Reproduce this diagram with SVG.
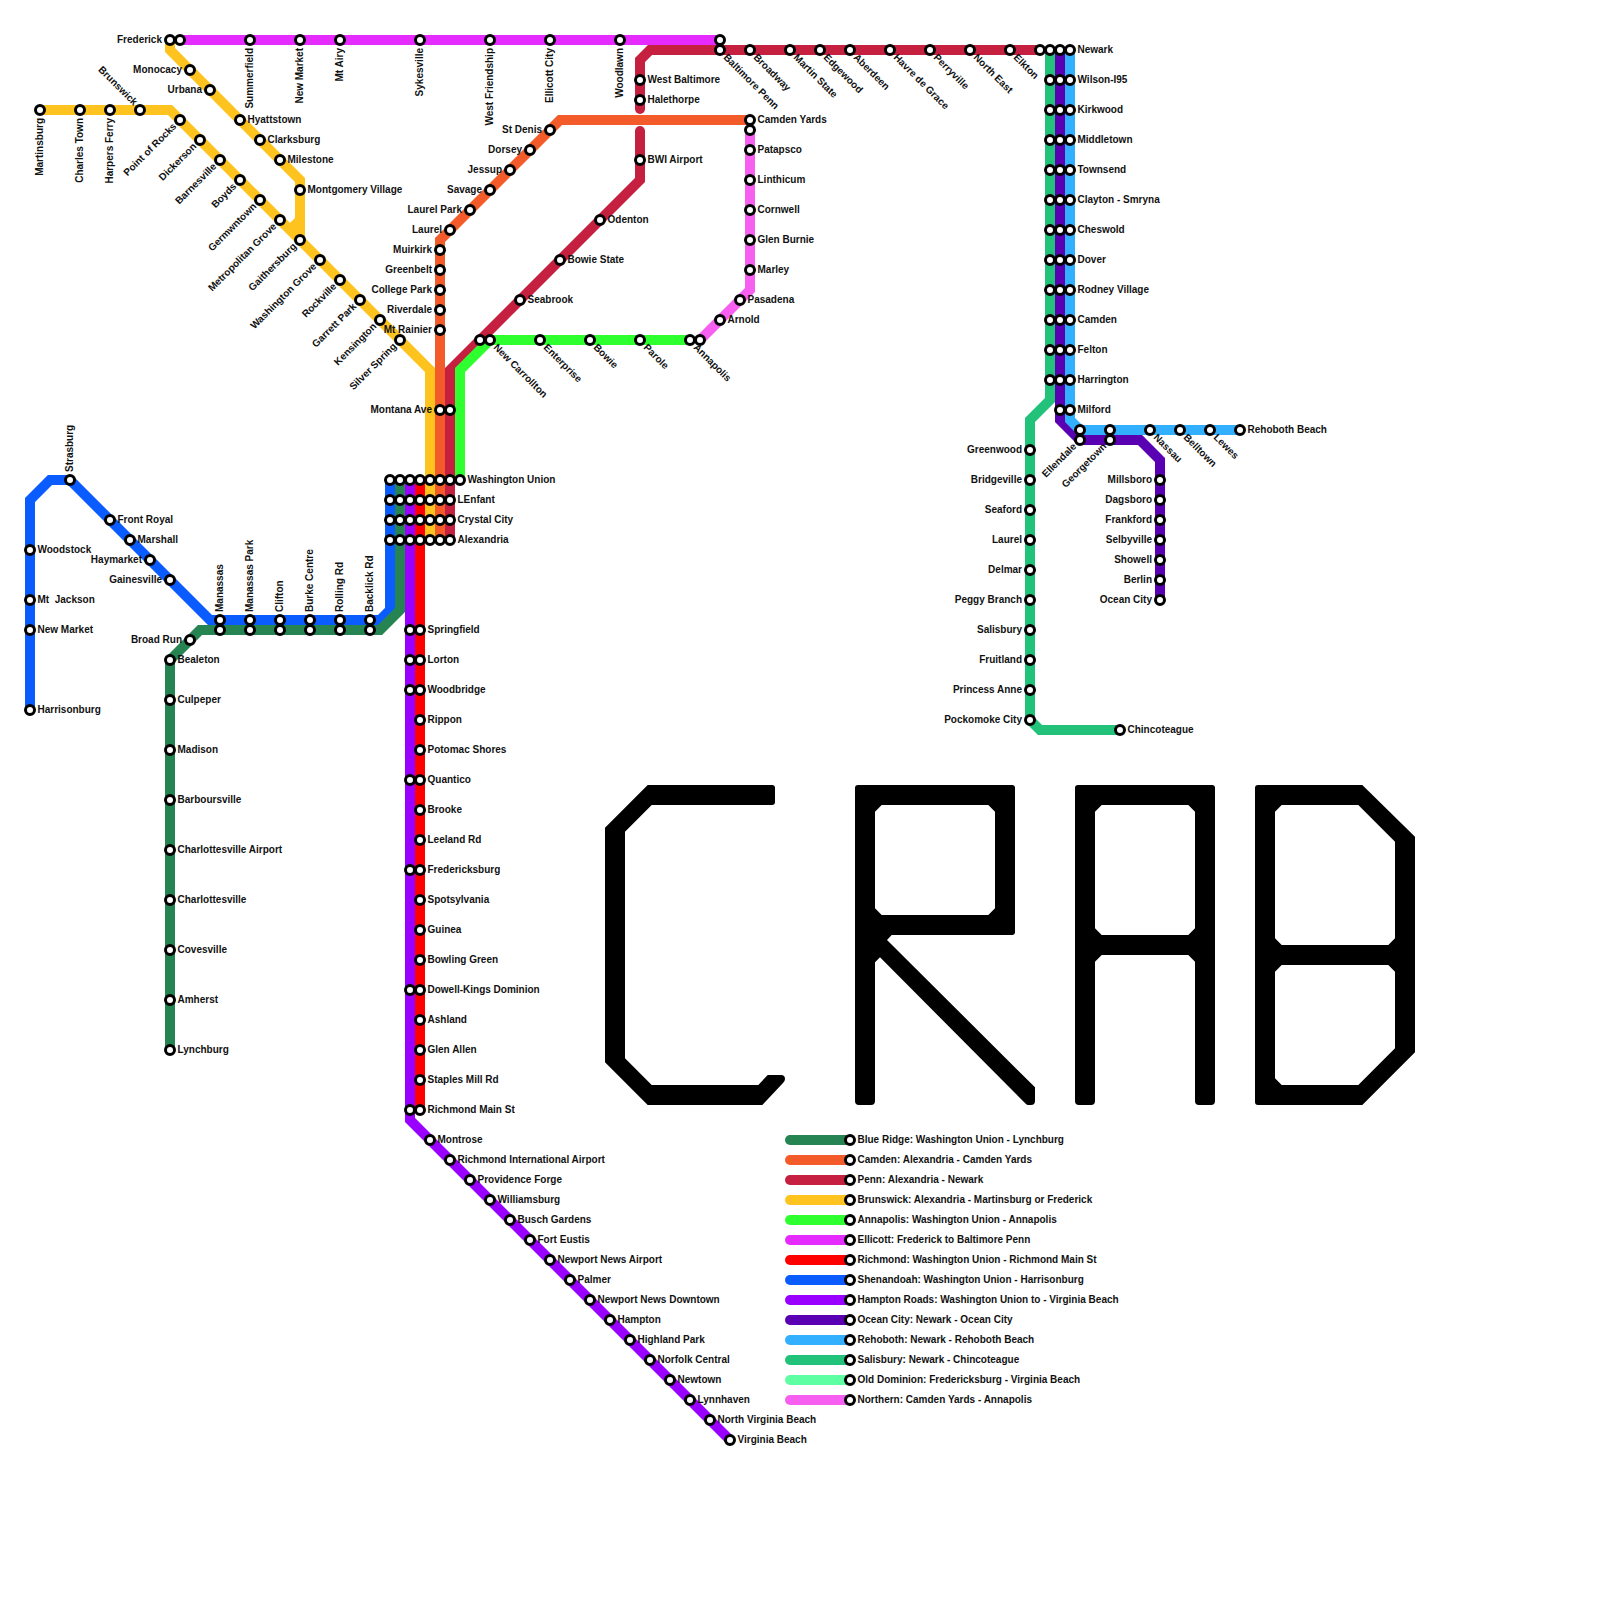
<svg xmlns="http://www.w3.org/2000/svg" width="1600" height="1600" viewBox="0 0 1600 1600">
<style>
.ln{fill:none;stroke-width:10;stroke-linejoin:miter;stroke-linecap:butt}
.lg{fill:none;stroke-width:10;stroke-linecap:round}
circle{fill:#fff;stroke:#000;stroke-width:3}
text{font-family:"Liberation Sans",Arial,sans-serif;font-size:10px;font-weight:700;fill:#111}
.e{text-anchor:end}
.br{stroke:#268452}.ca{stroke:#f45b2a}.pe{stroke:#c5203f}.bw{stroke:#ffc31f}.an{stroke:#2eff2e}.el{stroke:#e52bff}.ri{stroke:#ff0000}.sh{stroke:#0a5cff}.ha{stroke:#9900ff}.oc{stroke:#5a00b3}.re{stroke:#33afff}.sa{stroke:#22c27a}.od{stroke:#5effa2}.no{stroke:#f65ff0}
.crab{fill:#000;fill-rule:evenodd}
</style>
<rect width="1600" height="1600" fill="#fff"/>
<g id="connectors">
<path class="ln sa" d="M1050 50V400L1030 420V720L1040 730H1120"/>
<path class="ln oc" d="M1060 50V420L1080 440H1140L1160 460V600"/>
<path class="ln re" d="M1070 50V420L1080 430H1240"/>
<path class="ln sh" d="M390 480V610L380 620H210L70 480H50L30 500V710"/>
<path class="ln br" d="M400 480V610L380 630H200L170 660V1050"/>
<path class="ln ha" d="M410 480V1120L730 1440"/>
<path class="ln ri" d="M420 480V1110"/>
<path class="ln bw" d="M430 540V370L170 110H40"/>
<path class="ln bw" d="M170 40V50L300 180V220L290 230"/>
<path class="ln bw" d="M300 180V240"/>
<path class="ln pe" d="M450 540V370L640 180V131" stroke-linecap="butt"/>
<path class="lg pe" d="M640 150V131"/>
<path class="lg pe" d="M640 70V109"/>
<path class="ln pe" d="M640 80V60L650 50H1040"/>
<path class="ln ca" d="M440 540V240L560 120H750"/>
<path class="ln an" d="M460 480V370L490 340H690"/>
<path class="ln el" d="M180 40H720"/>
<path class="ln no" d="M750 130V290L700 340"/>
</g>
<g id="stations-brunswick">
<g id="martinsburg"><circle cx="40" cy="110" r="4.5"/><text class="e" x="43" y="118" transform="rotate(-90 43 118)">Martinsburg</text></g>
<g id="charles-town"><circle cx="80" cy="110" r="4.5"/><text class="e" x="83" y="118" transform="rotate(-90 83 118)">Charles Town</text></g>
<g id="harpers-ferry"><circle cx="110" cy="110" r="4.5"/><text class="e" x="113" y="118" transform="rotate(-90 113 118)">Harpers Ferry</text></g>
<g id="brunswick"><circle cx="140" cy="110" r="4.5"/><text class="e" x="133.5" y="106" transform="rotate(45 133.5 106)">Brunswick</text></g>
<g id="point-of-rocks"><circle cx="180" cy="120" r="4.5"/><text class="e" x="177" y="127" transform="rotate(-45 177 127)">Point of Rocks</text></g>
<g id="dickerson"><circle cx="200" cy="140" r="4.5"/><text class="e" x="197" y="147" transform="rotate(-45 197 147)">Dickerson</text></g>
<g id="barnesville"><circle cx="220" cy="160" r="4.5"/><text class="e" x="217" y="167" transform="rotate(-45 217 167)">Barnesville</text></g>
<g id="boyds"><circle cx="240" cy="180" r="4.5"/><text class="e" x="237" y="187" transform="rotate(-45 237 187)">Boyds</text></g>
<g id="germwntown"><circle cx="260" cy="200" r="4.5"/><text class="e" x="257" y="207" transform="rotate(-45 257 207)">Germwntown</text></g>
<g id="metropolitan-grove"><circle cx="280" cy="220" r="4.5"/><text class="e" x="277" y="227" transform="rotate(-45 277 227)">Metropolitan Grove</text></g>
<g id="gaithersburg"><circle cx="300" cy="240" r="4.5"/><text class="e" x="297" y="247" transform="rotate(-45 297 247)">Gaithersburg</text></g>
<g id="washington-grove"><circle cx="320" cy="260" r="4.5"/><text class="e" x="317" y="267" transform="rotate(-45 317 267)">Washington Grove</text></g>
<g id="rockville"><circle cx="340" cy="280" r="4.5"/><text class="e" x="337" y="287" transform="rotate(-45 337 287)">Rockville</text></g>
<g id="garrett-park"><circle cx="360" cy="300" r="4.5"/><text class="e" x="357" y="307" transform="rotate(-45 357 307)">Garrett Park</text></g>
<g id="kensington"><circle cx="380" cy="320" r="4.5"/><text class="e" x="377" y="327" transform="rotate(-45 377 327)">Kensington</text></g>
<g id="silver-spring"><circle cx="400" cy="340" r="4.5"/><text class="e" x="397" y="347" transform="rotate(-45 397 347)">Silver Spring</text></g>
<g id="frederick"><circle cx="170" cy="40" r="4.5"/><circle cx="180" cy="40" r="4.5"/><text class="e" x="162" y="42.5">Frederick</text></g>
<g id="monocacy"><circle cx="190" cy="70" r="4.5"/><text class="e" x="182" y="72.5">Monocacy</text></g>
<g id="urbana"><circle cx="210" cy="90" r="4.5"/><text class="e" x="202" y="92.5">Urbana</text></g>
<g id="hyattstown"><circle cx="240" cy="120" r="4.5"/><text x="247.5" y="122.5">Hyattstown</text></g>
<g id="clarksburg"><circle cx="260" cy="140" r="4.5"/><text x="267.5" y="142.5">Clarksburg</text></g>
<g id="milestone"><circle cx="280" cy="160" r="4.5"/><text x="287.5" y="162.5">Milestone</text></g>
<g id="montgomery-village"><circle cx="300" cy="190" r="4.5"/><text x="307.5" y="192.5">Montgomery Village</text></g>
</g>
<g id="stations-ellicott">
<g id="summerfield"><circle cx="250" cy="40" r="4.5"/><text class="e" x="253" y="48" transform="rotate(-90 253 48)">Summerfield</text></g>
<g id="new-market-e"><circle cx="300" cy="40" r="4.5"/><text class="e" x="303" y="48" transform="rotate(-90 303 48)">New Market</text></g>
<g id="mt-airy"><circle cx="340" cy="40" r="4.5"/><text class="e" x="343" y="48" transform="rotate(-90 343 48)">Mt Airy</text></g>
<g id="sykesville"><circle cx="420" cy="40" r="4.5"/><text class="e" x="423" y="48" transform="rotate(-90 423 48)">Sykesville</text></g>
<g id="west-friendship"><circle cx="490" cy="40" r="4.5"/><text class="e" x="493" y="48" transform="rotate(-90 493 48)">West Friendship</text></g>
<g id="ellicott-city"><circle cx="550" cy="40" r="4.5"/><text class="e" x="553" y="48" transform="rotate(-90 553 48)">Ellicott City</text></g>
<g id="woodlawn"><circle cx="620" cy="40" r="4.5"/><text class="e" x="623" y="48" transform="rotate(-90 623 48)">Woodlawn</text></g>
</g>
<g id="stations-penn">
<g id="baltimore-penn"><circle cx="720" cy="40" r="4.5"/><circle cx="720" cy="50" r="4.5"/><text x="723" y="58" transform="rotate(45 723 58)">Baltimore Penn</text></g>
<g id="broadway"><circle cx="750" cy="50" r="4.5"/><text x="753" y="58" transform="rotate(45 753 58)">Broadway</text></g>
<g id="martin-state"><circle cx="790" cy="50" r="4.5"/><text x="793" y="58" transform="rotate(45 793 58)">Martin State</text></g>
<g id="edgewood"><circle cx="820" cy="50" r="4.5"/><text x="823" y="58" transform="rotate(45 823 58)">Edgewood</text></g>
<g id="aberdeen"><circle cx="850" cy="50" r="4.5"/><text x="853" y="58" transform="rotate(45 853 58)">Aberdeen</text></g>
<g id="havre-de-grace"><circle cx="890" cy="50" r="4.5"/><text x="893" y="58" transform="rotate(45 893 58)">Havre de Grace</text></g>
<g id="perryville"><circle cx="930" cy="50" r="4.5"/><text x="933" y="58" transform="rotate(45 933 58)">Perryville</text></g>
<g id="north-east"><circle cx="970" cy="50" r="4.5"/><text x="973" y="58" transform="rotate(45 973 58)">North East</text></g>
<g id="elkton"><circle cx="1010" cy="50" r="4.5"/><text x="1013" y="58" transform="rotate(45 1013 58)">Elkton</text></g>
<g id="west-baltimore"><circle cx="640" cy="80" r="4.5"/><text x="647.5" y="82.5">West Baltimore</text></g>
<g id="halethorpe"><circle cx="640" cy="100" r="4.5"/><text x="647.5" y="102.5">Halethorpe</text></g>
<g id="bwi-airport"><circle cx="640" cy="160" r="4.5"/><text x="647.5" y="162.5">BWI Airport</text></g>
<g id="odenton"><circle cx="600" cy="220" r="4.5"/><text x="607.5" y="222.5">Odenton</text></g>
<g id="bowie-state"><circle cx="560" cy="260" r="4.5"/><text x="567.5" y="262.5">Bowie State</text></g>
<g id="seabrook"><circle cx="520" cy="300" r="4.5"/><text x="527.5" y="302.5">Seabrook</text></g>
</g>
<g id="stations-camden">
<g id="st-denis"><circle cx="550" cy="130" r="4.5"/><text class="e" x="542" y="132.5">St Denis</text></g>
<g id="dorsey"><circle cx="530" cy="150" r="4.5"/><text class="e" x="522" y="152.5">Dorsey</text></g>
<g id="jessup"><circle cx="510" cy="170" r="4.5"/><text class="e" x="502" y="172.5">Jessup</text></g>
<g id="savage"><circle cx="490" cy="190" r="4.5"/><text class="e" x="482" y="192.5">Savage</text></g>
<g id="laurel-park"><circle cx="470" cy="210" r="4.5"/><text class="e" x="462" y="212.5">Laurel Park</text></g>
<g id="laurel-c"><circle cx="450" cy="230" r="4.5"/><text class="e" x="442" y="232.5">Laurel</text></g>
<g id="muirkirk"><circle cx="440" cy="250" r="4.5"/><text class="e" x="432" y="252.5">Muirkirk</text></g>
<g id="greenbelt"><circle cx="440" cy="270" r="4.5"/><text class="e" x="432" y="272.5">Greenbelt</text></g>
<g id="college-park"><circle cx="440" cy="290" r="4.5"/><text class="e" x="432" y="292.5">College Park</text></g>
<g id="riverdale"><circle cx="440" cy="310" r="4.5"/><text class="e" x="432" y="312.5">Riverdale</text></g>
<g id="mt-rainier"><circle cx="440" cy="330" r="4.5"/><text class="e" x="432" y="332.5">Mt Rainier</text></g>
<g id="montana-ave"><circle cx="440" cy="410" r="4.5"/><circle cx="450" cy="410" r="4.5"/><text class="e" x="432" y="412.5">Montana Ave</text></g>
<g id="camden-yards"><circle cx="750" cy="120" r="4.5"/><circle cx="750" cy="130" r="4.5"/><text x="757.5" y="122.5">Camden Yards</text></g>
</g>
<g id="stations-core">
<g id="washington-union"><circle cx="390" cy="480" r="4.5"/><circle cx="400" cy="480" r="4.5"/><circle cx="410" cy="480" r="4.5"/><circle cx="420" cy="480" r="4.5"/><circle cx="430" cy="480" r="4.5"/><circle cx="440" cy="480" r="4.5"/><circle cx="450" cy="480" r="4.5"/><circle cx="460" cy="480" r="4.5"/><text x="467.5" y="482.5">Washington Union</text></g>
<g id="lenfant"><circle cx="390" cy="500" r="4.5"/><circle cx="400" cy="500" r="4.5"/><circle cx="410" cy="500" r="4.5"/><circle cx="420" cy="500" r="4.5"/><circle cx="430" cy="500" r="4.5"/><circle cx="440" cy="500" r="4.5"/><circle cx="450" cy="500" r="4.5"/><text x="457.5" y="502.5">LEnfant</text></g>
<g id="crystal-city"><circle cx="390" cy="520" r="4.5"/><circle cx="400" cy="520" r="4.5"/><circle cx="410" cy="520" r="4.5"/><circle cx="420" cy="520" r="4.5"/><circle cx="430" cy="520" r="4.5"/><circle cx="440" cy="520" r="4.5"/><circle cx="450" cy="520" r="4.5"/><text x="457.5" y="522.5">Crystal City</text></g>
<g id="alexandria"><circle cx="390" cy="540" r="4.5"/><circle cx="400" cy="540" r="4.5"/><circle cx="410" cy="540" r="4.5"/><circle cx="420" cy="540" r="4.5"/><circle cx="430" cy="540" r="4.5"/><circle cx="440" cy="540" r="4.5"/><circle cx="450" cy="540" r="4.5"/><text x="457.5" y="542.5">Alexandria</text></g>
</g>
<g id="stations-annapolis">
<g id="new-carrollton"><circle cx="480" cy="340" r="4.5"/><circle cx="490" cy="340" r="4.5"/><text x="493" y="348" transform="rotate(45 493 348)">New Carrollton</text></g>
<g id="enterprise"><circle cx="540" cy="340" r="4.5"/><text x="543" y="348" transform="rotate(45 543 348)">Enterprise</text></g>
<g id="bowie"><circle cx="590" cy="340" r="4.5"/><text x="593" y="348" transform="rotate(45 593 348)">Bowie</text></g>
<g id="parole"><circle cx="640" cy="340" r="4.5"/><text x="643" y="348" transform="rotate(45 643 348)">Parole</text></g>
<g id="annapolis"><circle cx="690" cy="340" r="4.5"/><circle cx="700" cy="340" r="4.5"/><text x="693" y="348" transform="rotate(45 693 348)">Annapolis</text></g>
</g>
<g id="stations-northern">
<g id="patapsco"><circle cx="750" cy="150" r="4.5"/><text x="757.5" y="152.5">Patapsco</text></g>
<g id="linthicum"><circle cx="750" cy="180" r="4.5"/><text x="757.5" y="182.5">Linthicum</text></g>
<g id="cornwell"><circle cx="750" cy="210" r="4.5"/><text x="757.5" y="212.5">Cornwell</text></g>
<g id="glen-burnie"><circle cx="750" cy="240" r="4.5"/><text x="757.5" y="242.5">Glen Burnie</text></g>
<g id="marley"><circle cx="750" cy="270" r="4.5"/><text x="757.5" y="272.5">Marley</text></g>
<g id="pasadena"><circle cx="740" cy="300" r="4.5"/><text x="747.5" y="302.5">Pasadena</text></g>
<g id="arnold"><circle cx="720" cy="320" r="4.5"/><text x="727.5" y="322.5">Arnold</text></g>
</g>
<g id="stations-delaware">
<g id="newark"><circle cx="1040" cy="50" r="4.5"/><circle cx="1050" cy="50" r="4.5"/><circle cx="1060" cy="50" r="4.5"/><circle cx="1070" cy="50" r="4.5"/><text x="1077.5" y="52.5">Newark</text></g>
<g id="wilson-i95"><circle cx="1050" cy="80" r="4.5"/><circle cx="1060" cy="80" r="4.5"/><circle cx="1070" cy="80" r="4.5"/><text x="1077.5" y="82.5">Wilson-I95</text></g>
<g id="kirkwood"><circle cx="1050" cy="110" r="4.5"/><circle cx="1060" cy="110" r="4.5"/><circle cx="1070" cy="110" r="4.5"/><text x="1077.5" y="112.5">Kirkwood</text></g>
<g id="middletown"><circle cx="1050" cy="140" r="4.5"/><circle cx="1060" cy="140" r="4.5"/><circle cx="1070" cy="140" r="4.5"/><text x="1077.5" y="142.5">Middletown</text></g>
<g id="townsend"><circle cx="1050" cy="170" r="4.5"/><circle cx="1060" cy="170" r="4.5"/><circle cx="1070" cy="170" r="4.5"/><text x="1077.5" y="172.5">Townsend</text></g>
<g id="clayton-smryna"><circle cx="1050" cy="200" r="4.5"/><circle cx="1060" cy="200" r="4.5"/><circle cx="1070" cy="200" r="4.5"/><text x="1077.5" y="202.5">Clayton - Smryna</text></g>
<g id="cheswold"><circle cx="1050" cy="230" r="4.5"/><circle cx="1060" cy="230" r="4.5"/><circle cx="1070" cy="230" r="4.5"/><text x="1077.5" y="232.5">Cheswold</text></g>
<g id="dover"><circle cx="1050" cy="260" r="4.5"/><circle cx="1060" cy="260" r="4.5"/><circle cx="1070" cy="260" r="4.5"/><text x="1077.5" y="262.5">Dover</text></g>
<g id="rodney-village"><circle cx="1050" cy="290" r="4.5"/><circle cx="1060" cy="290" r="4.5"/><circle cx="1070" cy="290" r="4.5"/><text x="1077.5" y="292.5">Rodney Village</text></g>
<g id="camden"><circle cx="1050" cy="320" r="4.5"/><circle cx="1060" cy="320" r="4.5"/><circle cx="1070" cy="320" r="4.5"/><text x="1077.5" y="322.5">Camden</text></g>
<g id="felton"><circle cx="1050" cy="350" r="4.5"/><circle cx="1060" cy="350" r="4.5"/><circle cx="1070" cy="350" r="4.5"/><text x="1077.5" y="352.5">Felton</text></g>
<g id="harrington"><circle cx="1050" cy="380" r="4.5"/><circle cx="1060" cy="380" r="4.5"/><circle cx="1070" cy="380" r="4.5"/><text x="1077.5" y="382.5">Harrington</text></g>
<g id="milford"><circle cx="1060" cy="410" r="4.5"/><circle cx="1070" cy="410" r="4.5"/><text x="1077.5" y="412.5">Milford</text></g>
<g id="ellendale"><circle cx="1080" cy="430" r="4.5"/><circle cx="1080" cy="440" r="4.5"/><text class="e" x="1077" y="447" transform="rotate(-45 1077 447)">Ellendale</text></g>
<g id="georgetown"><circle cx="1110" cy="430" r="4.5"/><circle cx="1110" cy="440" r="4.5"/><text class="e" x="1107" y="447" transform="rotate(-45 1107 447)">Georgetown</text></g>
<g id="nassau"><circle cx="1150" cy="430" r="4.5"/><text x="1153" y="438" transform="rotate(45 1153 438)">Nassau</text></g>
<g id="belltown"><circle cx="1180" cy="430" r="4.5"/><text x="1183" y="438" transform="rotate(45 1183 438)">Belltown</text></g>
<g id="lewes"><circle cx="1210" cy="430" r="4.5"/><text x="1213" y="438" transform="rotate(45 1213 438)">Lewes</text></g>
<g id="rehoboth-beach"><circle cx="1240" cy="430" r="4.5"/><text x="1247.5" y="432.5">Rehoboth Beach</text></g>
<g id="millsboro"><circle cx="1160" cy="480" r="4.5"/><text class="e" x="1152" y="482.5">Millsboro</text></g>
<g id="dagsboro"><circle cx="1160" cy="500" r="4.5"/><text class="e" x="1152" y="502.5">Dagsboro</text></g>
<g id="frankford"><circle cx="1160" cy="520" r="4.5"/><text class="e" x="1152" y="522.5">Frankford</text></g>
<g id="selbyville"><circle cx="1160" cy="540" r="4.5"/><text class="e" x="1152" y="542.5">Selbyville</text></g>
<g id="showell"><circle cx="1160" cy="560" r="4.5"/><text class="e" x="1152" y="562.5">Showell</text></g>
<g id="berlin"><circle cx="1160" cy="580" r="4.5"/><text class="e" x="1152" y="582.5">Berlin</text></g>
<g id="ocean-city"><circle cx="1160" cy="600" r="4.5"/><text class="e" x="1152" y="602.5">Ocean City</text></g>
<g id="greenwood"><circle cx="1030" cy="450" r="4.5"/><text class="e" x="1022" y="452.5">Greenwood</text></g>
<g id="bridgeville"><circle cx="1030" cy="480" r="4.5"/><text class="e" x="1022" y="482.5">Bridgeville</text></g>
<g id="seaford"><circle cx="1030" cy="510" r="4.5"/><text class="e" x="1022" y="512.5">Seaford</text></g>
<g id="laurel-s"><circle cx="1030" cy="540" r="4.5"/><text class="e" x="1022" y="542.5">Laurel</text></g>
<g id="delmar"><circle cx="1030" cy="570" r="4.5"/><text class="e" x="1022" y="572.5">Delmar</text></g>
<g id="peggy-branch"><circle cx="1030" cy="600" r="4.5"/><text class="e" x="1022" y="602.5">Peggy Branch</text></g>
<g id="salisbury"><circle cx="1030" cy="630" r="4.5"/><text class="e" x="1022" y="632.5">Salisbury</text></g>
<g id="fruitland"><circle cx="1030" cy="660" r="4.5"/><text class="e" x="1022" y="662.5">Fruitland</text></g>
<g id="princess-anne"><circle cx="1030" cy="690" r="4.5"/><text class="e" x="1022" y="692.5">Princess Anne</text></g>
<g id="pockomoke-city"><circle cx="1030" cy="720" r="4.5"/><text class="e" x="1022" y="722.5">Pockomoke City</text></g>
<g id="chincoteague"><circle cx="1120" cy="730" r="4.5"/><text x="1127.5" y="732.5">Chincoteague</text></g>
</g>
<g id="stations-shenandoah">
<g id="strasburg"><circle cx="70" cy="480" r="4.5"/><text x="73" y="472" transform="rotate(-90 73 472)">Strasburg</text></g>
<g id="front-royal"><circle cx="110" cy="520" r="4.5"/><text x="117.5" y="522.5">Front Royal</text></g>
<g id="marshall"><circle cx="130" cy="540" r="4.5"/><text x="137.5" y="542.5">Marshall</text></g>
<g id="haymarket"><circle cx="150" cy="560" r="4.5"/><text class="e" x="142" y="562.5">Haymarket</text></g>
<g id="gainesville"><circle cx="170" cy="580" r="4.5"/><text class="e" x="162" y="582.5">Gainesville</text></g>
<g id="woodstock"><circle cx="30" cy="550" r="4.5"/><text x="37.5" y="552.5">Woodstock</text></g>
<g id="mt-jackson"><circle cx="30" cy="600" r="4.5"/><text x="37.5" y="602.5" xml:space="preserve">Mt  Jackson</text></g>
<g id="new-market-s"><circle cx="30" cy="630" r="4.5"/><text x="37.5" y="632.5">New Market</text></g>
<g id="harrisonburg"><circle cx="30" cy="710" r="4.5"/><text x="37.5" y="712.5">Harrisonburg</text></g>
<g id="manassas"><circle cx="220" cy="620" r="4.5"/><circle cx="220" cy="630" r="4.5"/><text x="223" y="612" transform="rotate(-90 223 612)">Manassas</text></g>
<g id="manassas-park"><circle cx="250" cy="620" r="4.5"/><circle cx="250" cy="630" r="4.5"/><text x="253" y="612" transform="rotate(-90 253 612)">Manassas Park</text></g>
<g id="clifton"><circle cx="280" cy="620" r="4.5"/><circle cx="280" cy="630" r="4.5"/><text x="283" y="612" transform="rotate(-90 283 612)">Clifton</text></g>
<g id="burke-centre"><circle cx="310" cy="620" r="4.5"/><circle cx="310" cy="630" r="4.5"/><text x="313" y="612" transform="rotate(-90 313 612)">Burke Centre</text></g>
<g id="rolling-rd"><circle cx="340" cy="620" r="4.5"/><circle cx="340" cy="630" r="4.5"/><text x="343" y="612" transform="rotate(-90 343 612)">Rolling Rd</text></g>
<g id="backlick-rd"><circle cx="370" cy="620" r="4.5"/><circle cx="370" cy="630" r="4.5"/><text x="373" y="612" transform="rotate(-90 373 612)">Backlick Rd</text></g>
</g>
<g id="stations-blue-ridge">
<g id="broad-run"><circle cx="190" cy="640" r="4.5"/><text class="e" x="182" y="642.5">Broad Run</text></g>
<g id="bealeton"><circle cx="170" cy="660" r="4.5"/><text x="177.5" y="662.5">Bealeton</text></g>
<g id="culpeper"><circle cx="170" cy="700" r="4.5"/><text x="177.5" y="702.5">Culpeper</text></g>
<g id="madison"><circle cx="170" cy="750" r="4.5"/><text x="177.5" y="752.5">Madison</text></g>
<g id="barboursville"><circle cx="170" cy="800" r="4.5"/><text x="177.5" y="802.5">Barboursville</text></g>
<g id="charlottesville-airport"><circle cx="170" cy="850" r="4.5"/><text x="177.5" y="852.5">Charlottesville Airport</text></g>
<g id="charlottesville"><circle cx="170" cy="900" r="4.5"/><text x="177.5" y="902.5">Charlottesville</text></g>
<g id="covesville"><circle cx="170" cy="950" r="4.5"/><text x="177.5" y="952.5">Covesville</text></g>
<g id="amherst"><circle cx="170" cy="1000" r="4.5"/><text x="177.5" y="1002.5">Amherst</text></g>
<g id="lynchburg"><circle cx="170" cy="1050" r="4.5"/><text x="177.5" y="1052.5">Lynchburg</text></g>
</g>
<g id="stations-richmond">
<g id="springfield"><circle cx="410" cy="630" r="4.5"/><circle cx="420" cy="630" r="4.5"/><text x="427.5" y="632.5">Springfield</text></g>
<g id="lorton"><circle cx="410" cy="660" r="4.5"/><circle cx="420" cy="660" r="4.5"/><text x="427.5" y="662.5">Lorton</text></g>
<g id="woodbridge"><circle cx="410" cy="690" r="4.5"/><circle cx="420" cy="690" r="4.5"/><text x="427.5" y="692.5">Woodbridge</text></g>
<g id="rippon"><circle cx="420" cy="720" r="4.5"/><text x="427.5" y="722.5">Rippon</text></g>
<g id="potomac-shores"><circle cx="420" cy="750" r="4.5"/><text x="427.5" y="752.5">Potomac Shores</text></g>
<g id="quantico"><circle cx="410" cy="780" r="4.5"/><circle cx="420" cy="780" r="4.5"/><text x="427.5" y="782.5">Quantico</text></g>
<g id="brooke"><circle cx="420" cy="810" r="4.5"/><text x="427.5" y="812.5">Brooke</text></g>
<g id="leeland-rd"><circle cx="420" cy="840" r="4.5"/><text x="427.5" y="842.5">Leeland Rd</text></g>
<g id="fredericksburg"><circle cx="410" cy="870" r="4.5"/><circle cx="420" cy="870" r="4.5"/><text x="427.5" y="872.5">Fredericksburg</text></g>
<g id="spotsylvania"><circle cx="420" cy="900" r="4.5"/><text x="427.5" y="902.5">Spotsylvania</text></g>
<g id="guinea"><circle cx="420" cy="930" r="4.5"/><text x="427.5" y="932.5">Guinea</text></g>
<g id="bowling-green"><circle cx="420" cy="960" r="4.5"/><text x="427.5" y="962.5">Bowling Green</text></g>
<g id="dowell-kings-dominion"><circle cx="410" cy="990" r="4.5"/><circle cx="420" cy="990" r="4.5"/><text x="427.5" y="992.5">Dowell-Kings Dominion</text></g>
<g id="ashland"><circle cx="420" cy="1020" r="4.5"/><text x="427.5" y="1022.5">Ashland</text></g>
<g id="glen-allen"><circle cx="420" cy="1050" r="4.5"/><text x="427.5" y="1052.5">Glen Allen</text></g>
<g id="staples-mill-rd"><circle cx="420" cy="1080" r="4.5"/><text x="427.5" y="1082.5">Staples Mill Rd</text></g>
<g id="richmond-main-st"><circle cx="410" cy="1110" r="4.5"/><circle cx="420" cy="1110" r="4.5"/><text x="427.5" y="1112.5">Richmond Main St</text></g>
</g>
<g id="stations-hampton">
<g id="montrose"><circle cx="430" cy="1140" r="4.5"/><text x="437.5" y="1142.5">Montrose</text></g>
<g id="richmond-intl"><circle cx="450" cy="1160" r="4.5"/><text x="457.5" y="1162.5">Richmond International Airport</text></g>
<g id="providence-forge"><circle cx="470" cy="1180" r="4.5"/><text x="477.5" y="1182.5">Providence Forge</text></g>
<g id="williamsburg"><circle cx="490" cy="1200" r="4.5"/><text x="497.5" y="1202.5">Williamsburg</text></g>
<g id="busch-gardens"><circle cx="510" cy="1220" r="4.5"/><text x="517.5" y="1222.5">Busch Gardens</text></g>
<g id="fort-eustis"><circle cx="530" cy="1240" r="4.5"/><text x="537.5" y="1242.5">Fort Eustis</text></g>
<g id="newport-news-airport"><circle cx="550" cy="1260" r="4.5"/><text x="557.5" y="1262.5">Newport News Airport</text></g>
<g id="palmer"><circle cx="570" cy="1280" r="4.5"/><text x="577.5" y="1282.5">Palmer</text></g>
<g id="newport-news-downtown"><circle cx="590" cy="1300" r="4.5"/><text x="597.5" y="1302.5">Newport News Downtown</text></g>
<g id="hampton"><circle cx="610" cy="1320" r="4.5"/><text x="617.5" y="1322.5">Hampton</text></g>
<g id="highland-park"><circle cx="630" cy="1340" r="4.5"/><text x="637.5" y="1342.5">Highland Park</text></g>
<g id="norfolk-central"><circle cx="650" cy="1360" r="4.5"/><text x="657.5" y="1362.5">Norfolk Central</text></g>
<g id="newtown"><circle cx="670" cy="1380" r="4.5"/><text x="677.5" y="1382.5">Newtown</text></g>
<g id="lynnhaven"><circle cx="690" cy="1400" r="4.5"/><text x="697.5" y="1402.5">Lynnhaven</text></g>
<g id="north-virginia-beach"><circle cx="710" cy="1420" r="4.5"/><text x="717.5" y="1422.5">North Virginia Beach</text></g>
<g id="virginia-beach"><circle cx="730" cy="1440" r="4.5"/><text x="737.5" y="1442.5">Virginia Beach</text></g>
</g>
<g id="crab">
<path class="crab" d="M647.7 785H772Q775 785 775 788V802Q775 805 772 805H651.7L625 831.7V1058.3L651.7 1085H758.3L767.7 1075H781Q785 1075 785 1079Q785 1081 783 1083L762.3 1105H647.7L605 1062.3V827.7Z"/>
<path class="crab" d="M858 785H1012Q1015 785 1015 788V932Q1015 935 1012 935H891.7L887 940L1035 1087.3V1101Q1035 1105 1031 1105H1028Q1027 1105 1026 1104L880 957.3L875 962.3V1101Q875 1105 871 1105H859Q855 1105 855 1101V788Q855 785 858 785ZM881.7 805L875 811.7V908.3L881.7 915H988.3L995 908.3V811.7L988.3 805Z"/>
<path class="crab" d="M1078 785H1212Q1215 785 1215 788V1101Q1215 1105 1211 1105H1199Q1195 1105 1195 1101V961.7L1188.3 955H1101.7L1095 961.7V1101Q1095 1105 1091 1105H1079Q1075 1105 1075 1101V788Q1075 785 1078 785ZM1101.7 805L1095 811.7V928.3L1101.7 935H1188.3L1195 928.3V811.7L1188.3 805Z"/>
<path class="crab" d="M1258 785H1362.3L1415 836.7V1052.3L1362.3 1105H1258Q1255 1105 1255 1102V788Q1255 785 1258 785ZM1281.7 805L1275 811.7V938.3L1281.7 945H1388.3L1395 938.3V841.7L1358.3 805ZM1281.7 965L1275 971.7V1078.3L1281.7 1085H1358.3L1395 1048.3V971.7L1388.3 965Z"/>
</g>
<g id="legend">
<g id="lg-blue-ridge"><path class="lg br" d="M790 1140H850"/><circle cx="850" cy="1140" r="4.5"/><text x="857.5" y="1142.5">Blue Ridge: Washington Union - Lynchburg</text></g>
<g id="lg-camden"><path class="lg ca" d="M790 1160H850"/><circle cx="850" cy="1160" r="4.5"/><text x="857.5" y="1162.5">Camden: Alexandria - Camden Yards</text></g>
<g id="lg-penn"><path class="lg pe" d="M790 1180H850"/><circle cx="850" cy="1180" r="4.5"/><text x="857.5" y="1182.5">Penn: Alexandria - Newark</text></g>
<g id="lg-brunswick"><path class="lg bw" d="M790 1200H850"/><circle cx="850" cy="1200" r="4.5"/><text x="857.5" y="1202.5">Brunswick: Alexandria - Martinsburg or Frederick</text></g>
<g id="lg-annapolis"><path class="lg an" d="M790 1220H850"/><circle cx="850" cy="1220" r="4.5"/><text x="857.5" y="1222.5">Annapolis: Washington Union - Annapolis</text></g>
<g id="lg-ellicott"><path class="lg el" d="M790 1240H850"/><circle cx="850" cy="1240" r="4.5"/><text x="857.5" y="1242.5">Ellicott: Frederick to Baltimore Penn</text></g>
<g id="lg-richmond"><path class="lg ri" d="M790 1260H850"/><circle cx="850" cy="1260" r="4.5"/><text x="857.5" y="1262.5">Richmond: Washington Union - Richmond Main St</text></g>
<g id="lg-shenandoah"><path class="lg sh" d="M790 1280H850"/><circle cx="850" cy="1280" r="4.5"/><text x="857.5" y="1282.5">Shenandoah: Washington Union - Harrisonburg</text></g>
<g id="lg-hampton"><path class="lg ha" d="M790 1300H850"/><circle cx="850" cy="1300" r="4.5"/><text x="857.5" y="1302.5">Hampton Roads: Washington Union to - Virginia Beach</text></g>
<g id="lg-ocean"><path class="lg oc" d="M790 1320H850"/><circle cx="850" cy="1320" r="4.5"/><text x="857.5" y="1322.5">Ocean City: Newark - Ocean City</text></g>
<g id="lg-rehoboth"><path class="lg re" d="M790 1340H850"/><circle cx="850" cy="1340" r="4.5"/><text x="857.5" y="1342.5">Rehoboth: Newark - Rehoboth Beach</text></g>
<g id="lg-salisbury"><path class="lg sa" d="M790 1360H850"/><circle cx="850" cy="1360" r="4.5"/><text x="857.5" y="1362.5">Salisbury: Newark - Chincoteague</text></g>
<g id="lg-old-dominion"><path class="lg od" d="M790 1380H850"/><circle cx="850" cy="1380" r="4.5"/><text x="857.5" y="1382.5">Old Dominion: Fredericksburg - Virginia Beach</text></g>
<g id="lg-northern"><path class="lg no" d="M790 1400H850"/><circle cx="850" cy="1400" r="4.5"/><text x="857.5" y="1402.5">Northern: Camden Yards - Annapolis</text></g>
</g>
</svg>
